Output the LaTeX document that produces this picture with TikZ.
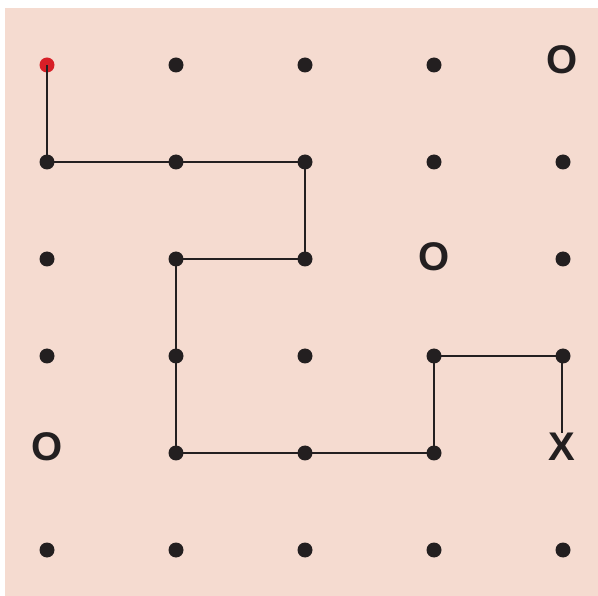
\documentclass[tikz,border=0pt]{standalone}
\usepackage{fontspec}
\setsansfont{Liberation Sans}
\usetikzlibrary{positioning}
\definecolor{bgpink}{RGB}{245,219,208}
\definecolor{dotc}{RGB}{35,31,32}
\definecolor{startred}{RGB}{215,31,39}

\begin{document}
\begin{tikzpicture}[x=1pt, y=-1pt,
    dot/.style={circle, fill=dotc, inner sep=0pt, minimum size=15pt},
    sym/.style={font=\sffamily\bfseries\fontsize{40}{40}\selectfont, text=dotc, inner sep=0pt},
    route/.style={draw=dotc, line width=1.1pt}]
  \useasboundingbox (0,0) rectangle (598,596);
  \fill[bgpink] (5,8) rectangle (598,596);
  % grid points, p-row-col
  \foreach \r in {0,...,5}
    \foreach \c in {0,...,4}
      \coordinate (p-\r-\c) at ({47+129*\c},{65+97*\r});
  \node[dot, fill=startred] (start) at (p-0-0) {};
  \node[sym] (o-1) at (562,60) {O};
  \node[sym] (o-2) at (434,257) {O};
  \node[sym] (o-3) at (47,447) {O};
  \node[sym] (x) at (562,447) {X};
  \draw[route] (start.center) -- (p-1-0) -- (p-1-1) -- (p-1-2) -- (p-2-2)
    -- (p-2-1) -- (p-3-1) -- (p-4-1) -- (p-4-2) -- (p-4-3) -- (p-3-3)
    -- (p-3-4 -| x) -- (x.north);
  \foreach \r/\c in {0/1,0/2,0/3,
      1/0,1/1,1/2,1/3,1/4,
      2/0,2/1,2/2,2/4,
      3/0,3/1,3/2,3/3,3/4,
      4/1,4/2,4/3,
      5/0,5/1,5/2,5/3,5/4}
    \node[dot] (d-\r-\c) at (p-\r-\c) {};
\end{tikzpicture}
\end{document}
